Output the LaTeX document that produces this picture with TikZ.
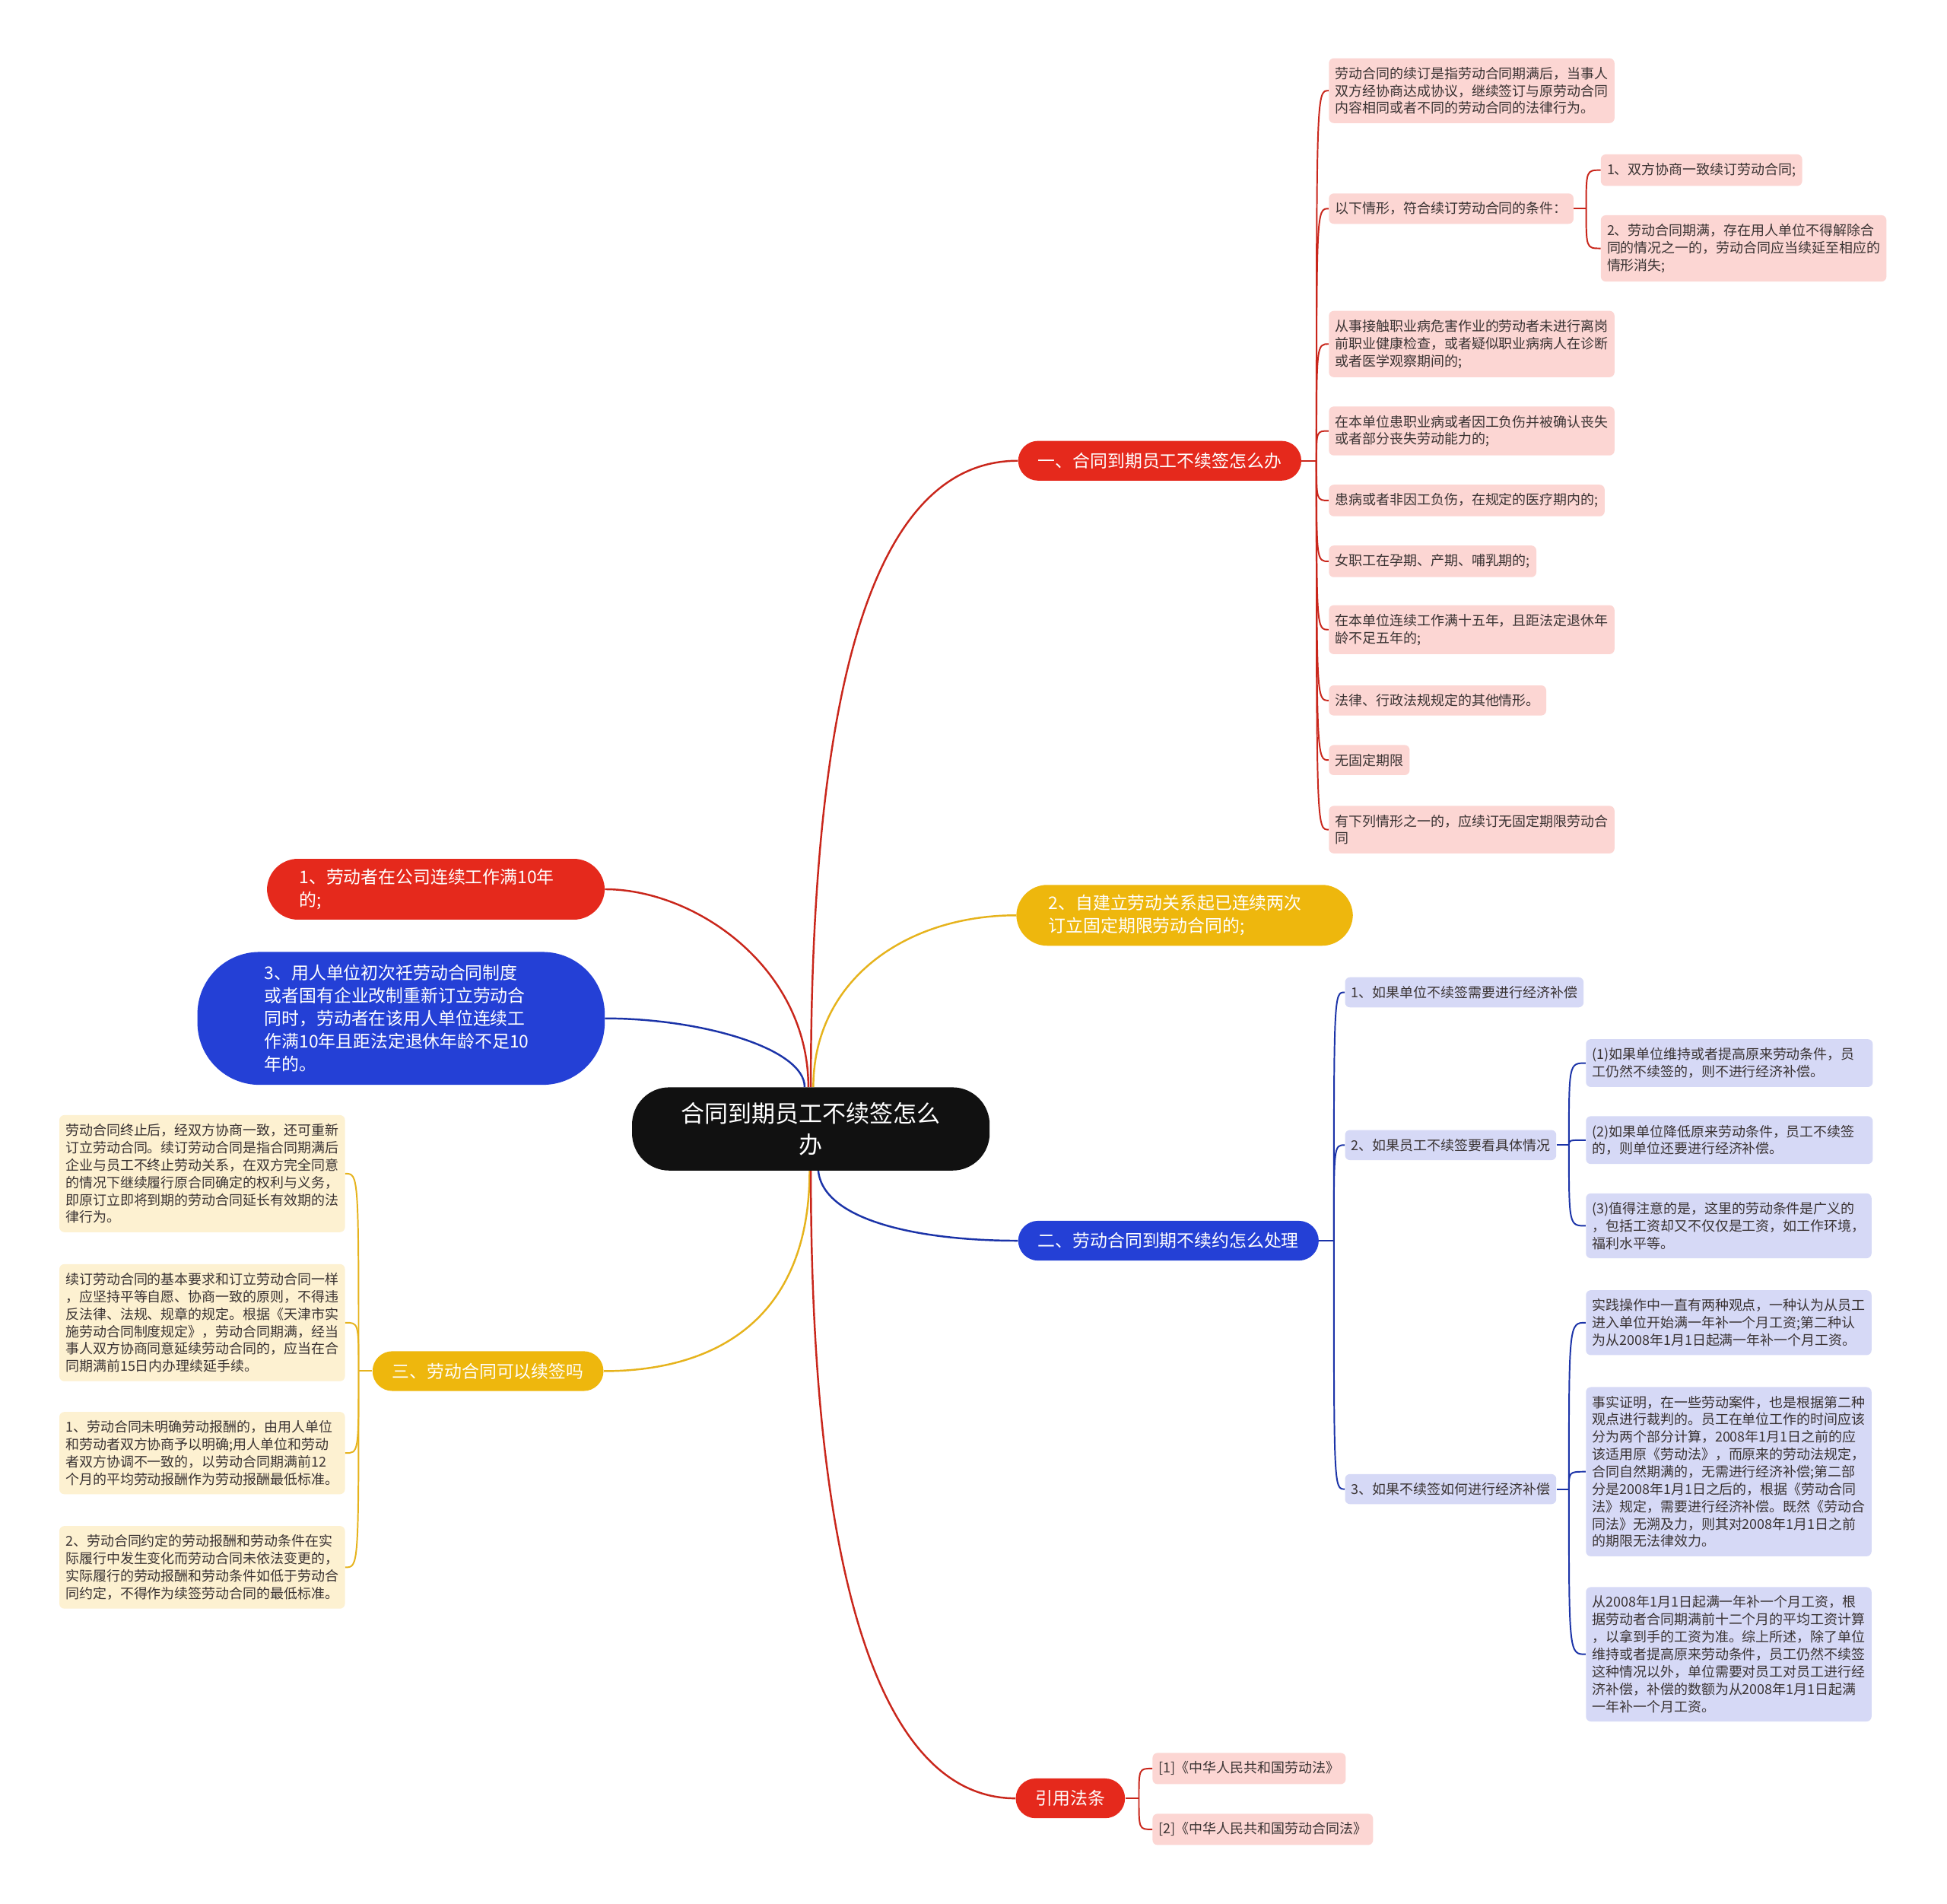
\documentclass[tikz,border=0pt]{standalone}
\usepackage{fontspec}
\setmainfont{Noto Sans CJK SC}
\usetikzlibrary{calc}
\definecolor{rootbg}{HTML}{111111}
\definecolor{redmain}{HTML}{E5291C}
\definecolor{redwire}{HTML}{C9261B}
\definecolor{yelmain}{HTML}{EEB70D}
\definecolor{yelwire}{HTML}{E6B31C}
\definecolor{bluemain}{HTML}{2440D6}
\definecolor{bluewire}{HTML}{1B33A8}
\definecolor{pinkfill}{HTML}{FCD6D3}
\definecolor{lavfill}{HTML}{D6D9F6}
\definecolor{creamfill}{HTML}{FDF1D1}
\definecolor{leafink}{HTML}{3A3333}

\begin{document}
\begin{tikzpicture}[
  x=1pt, y=1pt,
  rootnode/.style={rectangle, rounded corners=30pt, fill=rootbg, text=white,
    minimum width=288pt, minimum height=67pt, align=center,
    font=\fontsize{19}{25}\selectfont},
  mainnode/.style={rectangle, rounded corners=16pt, text=white, minimum height=32pt,
    inner xsep=16pt, font=\fontsize{14}{18.5}\selectfont},
  widenode/.style={mainnode, align=left, inner ysep=8pt, inner xsep=26pt,
    text width=220pt, rounded corners=25pt},
  leafnode/.style={rectangle, rounded corners=4pt, text=leafink, align=left,
    inner xsep=5pt, inner ysep=7pt, font=\fontsize{11}{14}\selectfont},
  pinkleaf/.style={leafnode, fill=pinkfill, anchor=west},
  lavleaf/.style={leafnode, fill=lavfill, anchor=west},
  creamleaf/.style={leafnode, fill=creamfill, anchor=east},
  redlink/.style={draw=redwire, line width=1.5pt},
  yellink/.style={draw=yelwire, line width=1.5pt},
  bluelink/.style={draw=bluewire, line width=1.5pt},
  redtwig/.style={draw=redwire, line width=1.2pt},
  yeltwig/.style={draw=yelwire, line width=1.2pt},
  bluetwig/.style={draw=bluewire, line width=1.2pt},
]
  \fill[white] (0,0) rectangle (1568,-1533);
  \useasboundingbox (0,0) rectangle (1568,-1533);

  % centre and main branches
  \node[rootnode] (root) at (653,-909) {合同到期员工不续签怎么\\办};
  \node[mainnode, fill=redmain] (one) at (934,-371) {一、合同到期员工不续签怎么办};
  \node[widenode, fill=yelmain, text width=219pt] (two) at (954,-737) {2、自建立劳动关系起已连续两次\\订立固定期限劳动合同的;};
  \node[mainnode, fill=bluemain] (er) at (941,-999) {二、劳动合同到期不续约怎么处理};
  \node[mainnode, fill=redmain] (cite) at (862,-1448) {引用法条};
  \node[widenode, fill=redmain] (lone) at (351,-716) {1、劳动者在公司连续工作满10年\\的;};
  \node[widenode, fill=bluemain, inner xsep=54pt, minimum height=107pt, rounded corners=50pt] (lthree) at (323,-820)
    {3、用人单位初次祍劳动合同制度\\或者国有企业改制重新订立劳动合\\同时，劳动者在该用人单位连续工\\作满10年且距法定退休年龄不足10\\年的。};
  \node[mainnode, fill=yelmain] (three) at (393,-1104) {三、劳动合同可以续签吗};

  % leaves of one
  \node[pinkleaf] (la) at (1070,-73) {劳动合同的续订是指劳动合同期满后，当事人\\双方经协商达成协议，继续签订与原劳动合同\\内容相同或者不同的劳动合同的法律行为。};
  \node[pinkleaf] (lb) at (1070,-168) {以下情形，符合续订劳动合同的条件：};
  \node[pinkleaf] (lb1) at (1289,-137) {1、双方协商一致续订劳动合同;};
  \node[pinkleaf] (lb2) at (1289,-200) {2、劳动合同期满，存在用人单位不得解除合\\同的情况之一的，劳动合同应当续延至相应的\\情形消失;};
  \node[pinkleaf] (lc) at (1070,-277) {从事接触职业病危害作业的劳动者未进行离岗\\前职业健康检查，或者疑似职业病病人在诊断\\或者医学观察期间的;};
  \node[pinkleaf] (ld) at (1070,-347) {在本单位患职业病或者因工负伤并被确认丧失\\或者部分丧失劳动能力的;};
  \node[pinkleaf] (le) at (1070,-403) {患病或者非因工负伤，在规定的医疗期内的;};
  \node[pinkleaf] (lf) at (1070,-452) {女职工在孕期、产期、哺乳期的;};
  \node[pinkleaf] (lg) at (1070,-507) {在本单位连续工作满十五年，且距法定退休年\\龄不足五年的;};
  \node[pinkleaf] (lh) at (1070,-564) {法律、行政法规规定的其他情形。};
  \node[pinkleaf] (li) at (1070,-612) {无固定期限};
  \node[pinkleaf] (lj) at (1070,-668) {有下列情形之一的，应续订无固定期限劳动合\\同};

  % leaves of er
  \node[lavleaf] (k1) at (1083,-799) {1、如果单位不续签需要进行经济补偿};
  \node[lavleaf] (k2) at (1083,-922) {2、如果员工不续签要看具体情况};
  \node[lavleaf, text width=221pt] (k2a) at (1277,-856) {(1)如果单位维持或者提高原来劳动条件，员\\工仍然不续签的，则不进行经济补偿。};
  \node[lavleaf, text width=221pt] (k2b) at (1277,-918) {(2)如果单位降低原来劳动条件，员工不续签\\的，则单位还要进行经济补偿。};
  \node[lavleaf] (k2c) at (1277,-987) {(3)值得注意的是，这里的劳动条件是广义的\\，包括工资却又不仅仅是工资，如工作环境，\\福利水平等。};
  \node[lavleaf] (k3) at (1083,-1199) {3、如果不续签如何进行经济补偿};
  \node[lavleaf] (k3a) at (1277,-1065) {实践操作中一直有两种观点，一种认为从员工\\进入单位开始满一年补一个月工资;第二种认\\为从2008年1月1日起满一年补一个月工资。};
  \node[lavleaf] (k3b) at (1277,-1185) {事实证明，在一些劳动案件，也是根据第二种\\观点进行裁判的。员工在单位工作的时间应该\\分为两个部分计算，2008年1月1日之前的应\\该适用原《劳动法》，而原来的劳动法规定，\\合同自然期满的，无需进行经济补偿;第二部\\分是2008年1月1日之后的，根据《劳动合同\\法》规定，需要进行经济补偿。既然《劳动合\\同法》无溯及力，则其对2008年1月1日之前\\的期限无法律效力。};
  \node[lavleaf] (k3c) at (1277,-1332) {从2008年1月1日起满一年补一个月工资，根\\据劳动者合同期满前十二个月的平均工资计算\\，以拿到手的工资为准。综上所述，除了单位\\维持或者提高原来劳动条件，员工仍然不续签\\这种情况以外，单位需要对员工对员工进行经\\济补偿，补偿的数额为从2008年1月1日起满\\一年补一个月工资。};

  % leaves of three
  \node[creamleaf] (ya) at (278,-945) {劳动合同终止后，经双方协商一致，还可重新\\订立劳动合同。续订劳动合同是指合同期满后\\企业与员工不终止劳动关系，在双方完全同意\\的情况下继续履行原合同确定的权利与义务，\\即原订立即将到期的劳动合同延长有效期的法\\律行为。};
  \node[creamleaf] (yb) at (278,-1065) {续订劳动合同的基本要求和订立劳动合同一样\\，应坚持平等自愿、协商一致的原则，不得违\\反法律、法规、规章的规定。根据《天津市实\\施劳动合同制度规定》，劳动合同期满，经当\\事人双方协商同意延续劳动合同的，应当在合\\同期满前15日内办理续延手续。};
  \node[creamleaf] (yc) at (278,-1170) {1、劳动合同未明确劳动报酬的，由用人单位\\和劳动者双方协商予以明确;用人单位和劳动\\者双方协调不一致的，以劳动合同期满前12\\个月的平均劳动报酬作为劳动报酬最低标准。};
  \node[creamleaf] (yd) at (278,-1262) {2、劳动合同约定的劳动报酬和劳动条件在实\\际履行中发生变化而劳动合同未依法变更的，\\实际履行的劳动报酬和劳动条件如低于劳动合\\同约定，不得作为续签劳动合同的最低标准。};

  % leaves of cite
  \node[pinkleaf] (r1) at (928,-1424) {[1]《中华人民共和国劳动法》};
  \node[pinkleaf] (r2) at (928,-1473) {[2]《中华人民共和国劳动合同法》};

  % centre to main branches
  \draw[redlink] (root.north) .. controls +(0,316) and +(-119,0) .. (one.west);
  \draw[redlink] ([xshift=-2pt]root.north) .. controls +(0,96) and +(73,0) .. (lone.east);
  \draw[bluelink] ([xshift=-5pt]root.north) .. controls +(0,31) and +(78,0) .. (lthree.east);
  \draw[yellink] ([xshift=2pt]root.north) .. controls +(0,86) and +(-89,0) .. (two.west);
  \draw[bluelink] ([xshift=6pt]root.south) .. controls +(4,-40) and +(-80,0) .. (er.west);
  \draw[yellink] ([xshift=-1pt]root.south) .. controls +(0,-117) and +(93,0) .. (three.east);
  \draw[redlink] (root.south) .. controls +(0,-357) and +(-99,0) .. (cite.west);

  % one
  \draw[redtwig] (one.east) -- ++(12,0) coordinate (onebar);
  \draw[redtwig] (onebar) .. controls (onebar |- la.west) .. (la.west);
  \draw[redtwig] (onebar) .. controls (onebar |- lb.west) .. (lb.west);
  \draw[redtwig] (onebar) .. controls (onebar |- lc.west) .. (lc.west);
  \draw[redtwig] (onebar) .. controls (onebar |- ld.west) .. (ld.west);
  \draw[redtwig] (onebar) .. controls (onebar |- le.west) .. (le.west);
  \draw[redtwig] (onebar) .. controls (onebar |- lf.west) .. (lf.west);
  \draw[redtwig] (onebar) .. controls (onebar |- lg.west) .. (lg.west);
  \draw[redtwig] (onebar) .. controls (onebar |- lh.west) .. (lh.west);
  \draw[redtwig] (onebar) .. controls (onebar |- li.west) .. (li.west);
  \draw[redtwig] (onebar) .. controls (onebar |- lj.west) .. (lj.west);
  \draw[redtwig] (lb.east) -- ++(10,0) coordinate (lbbar);
  \draw[redtwig] (lbbar) .. controls (lbbar |- lb1.west) .. (lb1.west);
  \draw[redtwig] (lbbar) .. controls (lbbar |- lb2.west) .. (lb2.west);

  % er
  \draw[bluetwig] (er.east) -- ++(12,0) coordinate (erbar);
  \draw[bluetwig] (erbar) .. controls (erbar |- k1.west) .. (k1.west);
  \draw[bluetwig] (erbar) .. controls (erbar |- k2.west) .. (k2.west);
  \draw[bluetwig] (erbar) .. controls (erbar |- k3.west) .. (k3.west);
  \draw[bluetwig] (k2.east) -- ++(10,0) coordinate (k2bar);
  \draw[bluetwig] (k2bar) .. controls (k2bar |- k2a.west) .. (k2a.west);
  \draw[bluetwig] (k2bar) .. controls (k2bar |- k2b.west) .. (k2b.west);
  \draw[bluetwig] (k2bar) .. controls (k2bar |- k2c.west) .. (k2c.west);
  \draw[bluetwig] (k3.east) -- ++(10,0) coordinate (k3bar);
  \draw[bluetwig] (k3bar) .. controls (k3bar |- k3a.west) .. (k3a.west);
  \draw[bluetwig] (k3bar) .. controls (k3bar |- k3b.west) .. (k3b.west);
  \draw[bluetwig] (k3bar) .. controls (k3bar |- k3c.west) .. (k3c.west);

  % three
  \draw[yeltwig] (three.west) -- ++(-11,0) coordinate (threebar);
  \draw[yeltwig] (threebar) .. controls (threebar |- ya.east) .. (ya.east);
  \draw[yeltwig] (threebar) .. controls (threebar |- yb.east) .. (yb.east);
  \draw[yeltwig] (threebar) .. controls (threebar |- yc.east) .. (yc.east);
  \draw[yeltwig] (threebar) .. controls (threebar |- yd.east) .. (yd.east);

  % cite
  \draw[redtwig] (cite.east) -- ++(11,0) coordinate (citebar);
  \draw[redtwig] (citebar) .. controls (citebar |- r1.west) .. (r1.west);
  \draw[redtwig] (citebar) .. controls (citebar |- r2.west) .. (r2.west);
\end{tikzpicture}
\end{document}
